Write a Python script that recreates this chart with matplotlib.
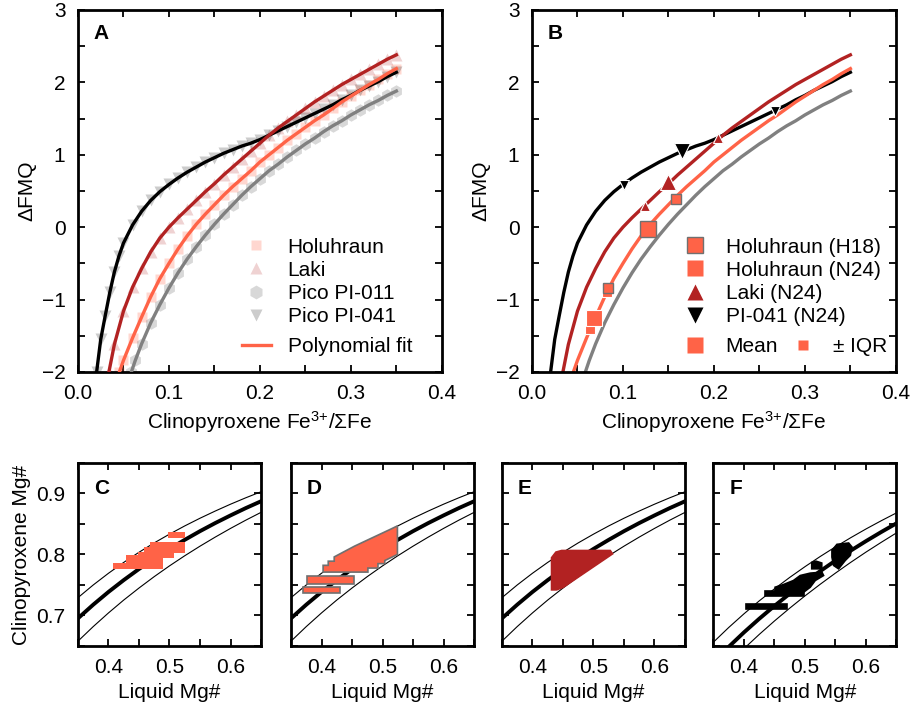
import matplotlib.pyplot as plt
from matplotlib.lines import Line2D
from matplotlib.ticker import MultipleLocator

plt.rcParams['font.family'] = ['Liberation Sans', 'DejaVu Sans']
plt.rcParams['mathtext.fontset'] = 'custom'
plt.rcParams['mathtext.rm'] = 'Liberation Sans'
plt.rcParams['mathtext.it'] = 'Liberation Sans:italic'
plt.rcParams['mathtext.bf'] = 'Liberation Sans:bold'

# polynomial fits, Fe3+/sumFe -> dFMQ
holu_x = [0.0455, 0.05, 0.06, 0.07, 0.08, 0.09, 0.10, 0.11, 0.12, 0.13, 0.14, 0.15, 0.16, 0.17, 0.18,
          0.19, 0.20, 0.21, 0.22, 0.23, 0.24, 0.25, 0.26, 0.27, 0.28, 0.29, 0.30, 0.31, 0.32, 0.33, 0.34, 0.35]
holu_y = [-2.0, -1.84, -1.53, -1.24, -0.96, -0.71, -0.50, -0.30, -0.12, 0.04, 0.18, 0.31, 0.44, 0.56, 0.67,
          0.78, 0.90, 1.00, 1.10, 1.20, 1.29, 1.38, 1.47, 1.55, 1.64, 1.73, 1.81, 1.89, 1.97, 2.04, 2.12, 2.19]
laki_x = [0.034, 0.04, 0.05, 0.06, 0.07, 0.08, 0.09, 0.10, 0.11, 0.12, 0.13, 0.14, 0.15, 0.16, 0.17, 0.18,
          0.19, 0.20, 0.21, 0.22, 0.23, 0.24, 0.25, 0.26, 0.27, 0.28, 0.29, 0.30, 0.31, 0.32, 0.33, 0.34, 0.35]
laki_y = [-2.0, -1.62, -1.16, -0.83, -0.57, -0.34, -0.15, 0.00, 0.13, 0.25, 0.37, 0.49, 0.60, 0.72, 0.83, 0.94,
          1.05, 1.16, 1.27, 1.37, 1.46, 1.55, 1.64, 1.73, 1.81, 1.89, 1.97, 2.04, 2.11, 2.18, 2.25, 2.32, 2.38]
pi011_x = [0.0587, 0.063, 0.07, 0.08, 0.09, 0.10, 0.11, 0.12, 0.13, 0.14, 0.15, 0.16, 0.17, 0.18, 0.19, 0.20,
           0.21, 0.22, 0.23, 0.24, 0.25, 0.26, 0.27, 0.28, 0.29, 0.30, 0.31, 0.32, 0.33, 0.34, 0.35]
pi011_y = [-2.0, -1.84, -1.61, -1.32, -1.07, -0.84, -0.63, -0.44, -0.27, -0.11, 0.04, 0.18, 0.31, 0.44, 0.56, 0.67,
           0.78, 0.87, 0.97, 1.06, 1.15, 1.23, 1.32, 1.40, 1.47, 1.55, 1.62, 1.69, 1.75, 1.82, 1.88]
pi041_x = [0.0205, 0.025, 0.03, 0.035, 0.04, 0.045, 0.05, 0.06, 0.07, 0.08, 0.09, 0.10, 0.11, 0.12, 0.13, 0.14,
           0.15, 0.16, 0.17, 0.18, 0.19, 0.20, 0.21, 0.22, 0.23, 0.24, 0.25, 0.26, 0.27, 0.28, 0.29, 0.30,
           0.31, 0.32, 0.33, 0.34, 0.35]
pi041_y = [-2.0, -1.55, -1.22, -0.90, -0.62, -0.40, -0.22, 0.03, 0.22, 0.37, 0.49, 0.59, 0.68, 0.76, 0.83, 0.90,
           0.96, 1.02, 1.07, 1.12, 1.16, 1.21, 1.27, 1.33, 1.39, 1.45, 1.51, 1.57, 1.63, 1.69, 1.76, 1.82,
           1.89, 1.95, 2.01, 2.08, 2.14]

# panel B: mean and interquartile points
h18_mean = [0.127, -0.03]
h18_iqr_x = [0.084, 0.158]
h18_iqr_y = [-0.84, 0.39]
n24_holu_mean = [0.0685, -1.25]
n24_holu_iqr_x = [0.0637, 0.082]
n24_holu_iqr_y = [-1.40, -0.89]
n24_laki_mean = [0.149, 0.62]
n24_laki_iqr_x = [0.124, 0.205]
n24_laki_iqr_y = [0.29, 1.23]
n24_pi041_mean = [0.165, 1.05]
n24_pi041_iqr_x = [0.1015, 0.267]
n24_pi041_iqr_y = [0.58, 1.60]

# panels C-F: equilibrium curves, liquid Mg# -> cpx Mg#
liq_mg = [0.35, 0.375, 0.40, 0.425, 0.45, 0.475, 0.50, 0.525, 0.55, 0.575, 0.60, 0.625, 0.65]
cpx_mid = [0.6953, 0.7177, 0.7386, 0.7580, 0.7762, 0.7931, 0.8091, 0.8240, 0.8382, 0.8515, 0.8640, 0.8760, 0.8872]
cpx_hi = [0.7292, 0.7500, 0.7692, 0.7870, 0.8036, 0.8190, 0.8333, 0.8468, 0.8594, 0.8712, 0.8824, 0.8929, 0.9028]
cpx_lo = [0.6579, 0.6818, 0.7042, 0.7253, 0.7450, 0.7637, 0.7813, 0.7979, 0.8136, 0.8285, 0.8427, 0.8562, 0.8690]
pico_mid = [0.6237, 0.6486, 0.6723, 0.6946, 0.7157, 0.7357, 0.7547, 0.7727, 0.7900, 0.8063, 0.8219, 0.8368, 0.8511]
pico_hi = [0.6563, 0.6803, 0.7027, 0.7239, 0.7437, 0.7624, 0.7800, 0.7967, 0.8125, 0.8275, 0.8418, 0.8553, 0.8682]
pico_lo = [0.5953, 0.6211, 0.6456, 0.6689, 0.6910, 0.7120, 0.7321, 0.7512, 0.7695, 0.7871, 0.8039, 0.8199, 0.8354]

# outlines of the clouds of equilibrium solutions
c_main = [(0.408, 0.7757), (0.408, 0.7856), (0.429, 0.7856), (0.429, 0.7992), (0.4477, 0.7992), (0.4477, 0.8046),
          (0.4576, 0.8046), (0.4576, 0.8128), (0.4686, 0.8128), (0.4686, 0.821), (0.5248, 0.821), (0.5248, 0.802),
          (0.508, 0.802), (0.508, 0.794), (0.49, 0.794), (0.49, 0.7757)]
c_top = [(0.4975, 0.8276), (0.525, 0.8276), (0.525, 0.837), (0.4975, 0.837)]
d_main = [(0.4026, 0.7711), (0.476, 0.7711), (0.476, 0.7777), (0.4925, 0.7777), (0.4925, 0.785), (0.5037, 0.785),
          (0.5037, 0.790), (0.5244, 0.800), (0.5244, 0.8468), (0.5117, 0.8407), (0.4814, 0.8265), (0.454, 0.8136),
          (0.4208, 0.796), (0.4208, 0.789), (0.411, 0.789), (0.411, 0.7822), (0.4026, 0.7822)]
d_bar1 = [(0.3768, 0.7518), (0.4528, 0.7518), (0.4528, 0.7644), (0.3768, 0.7644)]
d_bar2 = [(0.3696, 0.7369), (0.4302, 0.7369), (0.4302, 0.7462), (0.3696, 0.7462)]
e_main = [(0.4313, 0.742), (0.4313, 0.7947), (0.4384, 0.8039), (0.4478, 0.8065), (0.5275, 0.8065), (0.5313, 0.801),
          (0.4505, 0.7462), (0.4395, 0.742)]
f_parts = [
    [(0.403, 0.7105), (0.470, 0.7105), (0.470, 0.718), (0.403, 0.718)],
    [(0.435, 0.7325), (0.498, 0.7325), (0.498, 0.740), (0.435, 0.740)],
    [(0.451, 0.738), (0.451, 0.7463), (0.4647, 0.7507), (0.4811, 0.7573), (0.4922, 0.7655), (0.5086, 0.7694),
     (0.5278, 0.771), (0.5305, 0.7655), (0.5168, 0.7573), (0.5086, 0.7463), (0.4976, 0.738)],
    [(0.5111, 0.7765), (0.5111, 0.787), (0.518, 0.789), (0.5275, 0.786), (0.5275, 0.7765)],
    [(0.5442, 0.8067), (0.5524, 0.8166), (0.5716, 0.8188), (0.5771, 0.8122), (0.5743, 0.7985), (0.5661, 0.7903),
     (0.5551, 0.7765), (0.5469, 0.782), (0.5442, 0.7957)],
]

FS = 15
fits = [(pi041_x, pi041_y, 'black'), (laki_x, laki_y, 'firebrick'),
        (holu_x, holu_y, 'tomato'), (pi011_x, pi011_y, 'gray')]


def style(ax, xmaj, xmin, ymaj, ymin):
    ax.xaxis.set_major_locator(MultipleLocator(xmaj))
    ax.xaxis.set_minor_locator(MultipleLocator(xmin))
    ax.yaxis.set_major_locator(MultipleLocator(ymaj))
    ax.yaxis.set_minor_locator(MultipleLocator(ymin))
    ax.tick_params(which='both', direction='in', top=True, right=True, length=5, width=1.3,
                   labelsize=FS, pad=9)
    for s in ax.spines.values():
        s.set_linewidth(2)


fig = plt.figure(figsize=(9.12, 7.08), dpi=100)
axA = fig.add_axes([0.0855, 0.4746, 0.399, 0.5113])
axB = fig.add_axes([0.5833, 0.4746, 0.399, 0.5113])

# --- A ---
axA.plot(holu_x, holu_y, ls='none', marker='s', ms=7, color='tomato', alpha=0.25, mec='none')
axA.plot(laki_x, laki_y, ls='none', marker='^', ms=8, color='firebrick', alpha=0.2, mec='none')
axA.plot(pi011_x, pi011_y, ls='none', marker='h', ms=9, color='gray', alpha=0.3, mec='none')
axA.plot(pi041_x, pi041_y, ls='none', marker='v', ms=8, color='black', alpha=0.2, mec='none')
for fx, fy, c in fits:
    axA.plot(fx, fy, color=c, lw=2.4, zorder=3)

hA = [Line2D([], [], ls='none', marker='s', ms=7, color='tomato', alpha=0.25, mec='none'),
      Line2D([], [], ls='none', marker='^', ms=8, color='firebrick', alpha=0.2, mec='none'),
      Line2D([], [], ls='none', marker='h', ms=10, color='gray', alpha=0.3, mec='none'),
      Line2D([], [], ls='none', marker='v', ms=8, color='black', alpha=0.2, mec='none')]
legA = axA.legend(hA, ['Holuhraun', 'Laki', 'Pico PI-011', 'Pico PI-041'], loc='center left',
                  bbox_to_anchor=(0.45, 0.249), frameon=False, fontsize=FS, borderpad=0, borderaxespad=0,
                  handlelength=1.4, handletextpad=0.8, labelspacing=0.2)
axA.add_artist(legA)
axA.legend([Line2D([], [], color='tomato', lw=2.4)], ['Polynomial fit'], loc='center left',
           bbox_to_anchor=(0.45, 0.0696), frameon=False, fontsize=FS, borderpad=0, borderaxespad=0,
           handlelength=1.4, handletextpad=0.8)

# --- B ---
for fx, fy, c in fits:
    axB.plot(fx, fy, color=c, lw=2.4, zorder=2)
ek = dict(ls='none', zorder=4)
axB.plot(h18_iqr_x, h18_iqr_y, marker='s', ms=7.5, color='tomato', mec='#707070', mew=1, **ek)
axB.plot(*h18_mean, marker='s', ms=11.5, color='tomato', mec='#707070', mew=1, **ek)
axB.plot(n24_holu_iqr_x, n24_holu_iqr_y, marker='s', ms=7, color='tomato', mec='white', mew=0.8, zorder=3, ls='none')
axB.plot(*n24_holu_mean, marker='s', ms=11.5, color='tomato', mec='white', mew=0.8, **ek)
axB.plot(n24_laki_iqr_x, n24_laki_iqr_y, marker='^', ms=7.5, color='firebrick', mec='white', mew=0.8, **ek)
axB.plot(*n24_laki_mean, marker='^', ms=12, color='firebrick', mec='white', mew=0.8, **ek)
axB.plot(n24_pi041_iqr_x, n24_pi041_iqr_y, marker='v', ms=7.5, color='black', mec='white', mew=0.8, **ek)
axB.plot(*n24_pi041_mean, marker='v', ms=12, color='black', mec='white', mew=0.8, **ek)

hB = [Line2D([], [], ls='none', marker='s', ms=11.5, color='tomato', mec='#707070', mew=1),
      Line2D([], [], ls='none', marker='s', ms=11.5, color='tomato', mec='none'),
      Line2D([], [], ls='none', marker='^', ms=12, color='firebrick', mec='none'),
      Line2D([], [], ls='none', marker='v', ms=12, color='black', mec='none')]
legB = axB.legend(hB, ['Holuhraun (H18)', 'Holuhraun (N24)', 'Laki (N24)', 'PI-041 (N24)'], loc='center left',
                  bbox_to_anchor=(0.409, 0.249), frameon=False, fontsize=FS, borderpad=0, borderaxespad=0,
                  handlelength=1.4, handletextpad=0.75, labelspacing=0.2)
axB.add_artist(legB)
axB.legend([Line2D([], [], ls='none', marker='s', ms=11.5, color='tomato', mec='none'),
            Line2D([], [], ls='none', marker='s', ms=6.5, color='tomato', mec='none')],
           ['Mean', '± IQR'], ncol=2, loc='center left', bbox_to_anchor=(0.409, 0.0696), frameon=False,
           fontsize=FS, borderpad=0, borderaxespad=0, handlelength=1.4, handletextpad=0.75, columnspacing=0.5)

for ax, lab in [(axA, 'A'), (axB, 'B')]:
    ax.set_xlim(0, 0.4)
    ax.set_ylim(-2, 3)
    style(ax, 0.1, 0.05, 1, 0.5)
    ax.set_xlabel('Clinopyroxene Fe$^{\\mathrm{3{+}}}$/ΣFe', fontsize=FS)
    ax.set_ylabel('ΔFMQ', fontsize=FS)
    ax.text(0.042, 0.934, lab, transform=ax.transAxes, fontsize=FS, fontweight='bold', va='center', ha='left')

# --- C-F ---
lefts = [0.0855, 0.3191, 0.5504, 0.7823]
panels = [
    ('C', [c_main, c_top], 'tomato', 'none', (cpx_mid, cpx_hi, cpx_lo)),
    ('D', [d_main, d_bar1, d_bar2], 'tomato', '#707070', (cpx_mid, cpx_hi, cpx_lo)),
    ('E', [e_main], 'firebrick', 'firebrick', (cpx_mid, cpx_hi, cpx_lo)),
    ('F', f_parts, 'black', 'black', (pico_mid, pico_hi, pico_lo)),
]
for i, (lab, polys, fc, ec, curves) in enumerate(panels):
    ax = fig.add_axes([lefts[i], 0.0876, 0.2007, 0.2585])
    mid, hi, lo = curves
    ax.plot(liq_mg, mid, color='black', lw=2.8, zorder=2)
    ax.plot(liq_mg, hi, color='black', lw=0.8, zorder=2)
    ax.plot(liq_mg, lo, color='black', lw=0.8, zorder=2)
    for p in polys:
        ax.fill([v[0] for v in p], [v[1] for v in p], facecolor=fc, edgecolor=ec, lw=1.2, zorder=3)
    ax.set_xlim(0.35, 0.65)
    ax.set_ylim(0.65, 0.95)
    style(ax, 0.1, 0.05, 0.1, 0.05)
    ax.set_xlabel('Liquid Mg#', fontsize=FS)
    if i == 0:
        ax.set_ylabel('Clinopyroxene Mg#', fontsize=FS)
    else:
        ax.tick_params(labelleft=False)
    ax.text(0.087, 0.858, lab, transform=ax.transAxes, fontsize=FS, fontweight='bold', va='center', ha='left')

fig.savefig('out.png', dpi=100)
